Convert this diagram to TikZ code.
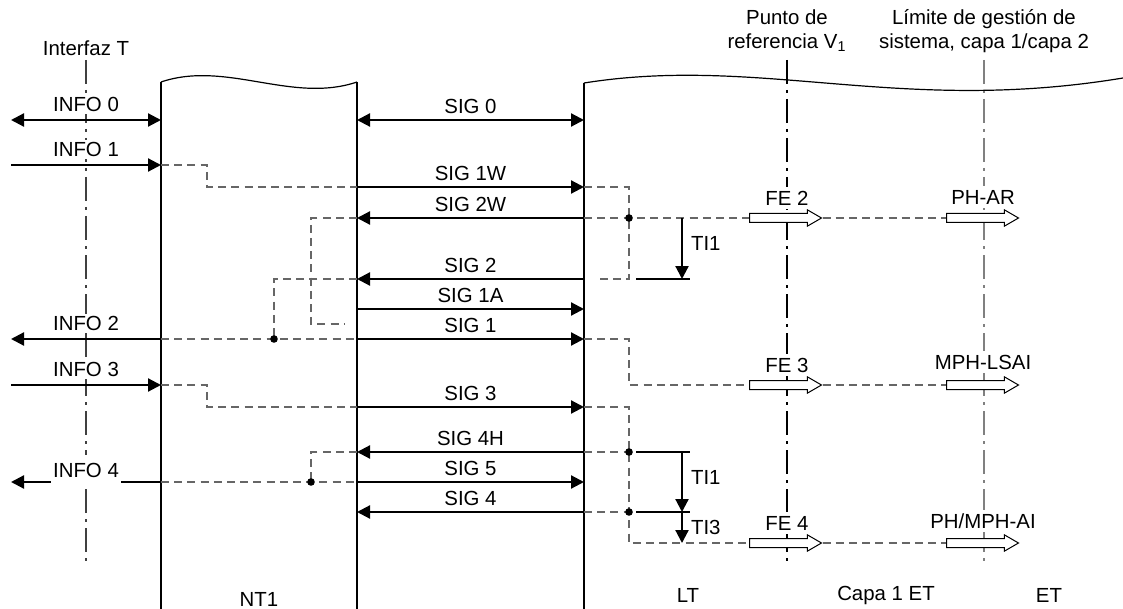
\documentclass[tikz,border=0pt]{standalone}
\usepackage{fontspec}
\setmainfont{Liberation Sans}
\usetikzlibrary{arrows.meta,shapes.arrows,positioning}
\tikzset{
    >={Triangle[length=6.5pt,width=6.5pt]},
    sigline/.style={line width=1.1pt},
    boxline/.style={line width=1pt},
    waveline/.style={line width=0.6pt},
    flowdash/.style={draw=black!60, line width=0.55pt, dash pattern=on 4pt off 2.6pt},
    refline/.style={line width=0.55pt, dash pattern=on 12pt off 3pt on 1.5pt off 3pt},
    juncdot/.style={circle, fill=black, inner sep=0pt, minimum size=3.8pt},
    lbl/.style={fill=white, inner sep=2pt},
    siglbl/.style={above=1.5pt, inner sep=1pt},
    infolbl/.style={above=2.5pt, inner sep=1pt, fill=white},
    tilbl/.style={right, inner sep=4pt},
    hollow/.style={single arrow, draw, fill=white, line width=0.5pt, inner xsep=0pt, inner ysep=2pt,
        minimum width=0pt, minimum height=36pt, single arrow head extend=1.8pt,
        single arrow tip angle=60, anchor=tail}
}
\begin{document}
\begin{tikzpicture}[x=0.5pt, y=-0.5pt, font=\fontsize{10.2}{12}\selectfont]
    \useasboundingbox (0,0) rectangle (1123,609);

    % columns
    \coordinate (edge) at (11,0);
    \coordinate (ntL) at (161,0);
    \coordinate (j1) at (207,0);
    \coordinate (j2) at (274,0);
    \coordinate (j3) at (311,0);
    \coordinate (ntR) at (357,0);
    \coordinate (ltL) at (584,0);
    \coordinate (k1) at (629,0);
    \coordinate (barL) at (636,0);
    \coordinate (ti) at (682,0);
    \coordinate (barR) at (690,0);
    % rows
    \coordinate (top) at (0,60);
    \coordinate (bot) at (0,565);
    \coordinate (floor) at (0,609);
    \coordinate (r0) at (0,120);
    \coordinate (r1) at (0,165);
    \coordinate (r1w) at (0,187);
    \coordinate (r2w) at (0,218);
    \coordinate (r2) at (0,279);
    \coordinate (r1a) at (0,309);
    \coordinate (r1s) at (0,339);
    \coordinate (r3i) at (0,385);
    \coordinate (r3) at (0,407);
    \coordinate (r4h) at (0,452);
    \coordinate (r5) at (0,482);
    \coordinate (r4) at (0,512);
    \coordinate (r6) at (0,543);
    \coordinate (stubA) at (345,324);
    \coordinate (stubB) at (596,279);

    % reference lines
    \node (intT) at (86,48) {Interfaz T};
    \node[align=center] (refV) at (787,31) {Punto de\\referencia V\textsubscript{1}};
    \node[align=center] (limit) at (984,31) {Límite de gestión de\\sistema, capa 1/capa 2};
    \draw[refline, draw=black!75] (intT |- top) -- (intT |- bot);
    \draw[refline] (refV |- top) -- (refV |- bot);
    \draw[refline, draw=black!50] (limit |- top) -- (limit |- bot);

    % boxes
    \coordinate (ntTL) at (161,82);
    \coordinate (ntTR) at (357,82);
    \coordinate (ltTL) at (584,83);
    \coordinate (ltTR) at (1123,78);
    \draw[boxline] (ntL |- floor) -- (ntTL);
    \draw[boxline] (ntR |- floor) -- (ntTR);
    \draw[waveline] (ntTL) .. controls (226,60) and (292,104) .. (ntTR);
    \draw[boxline] (ltL |- floor) -- (ltTL);
    \draw[waveline] (ltTL) .. controls (760,55) and (900,115) .. (ltTR);

    % primitives to layer 2
    \node[hollow] (fe2) at (749,218) {};
    \node[hollow] (phar) at (946,218) {};
    \node[hollow] (fe3) at (749,385) {};
    \node[hollow] (mphl) at (946,385) {};
    \node[hollow] (fe4) at (749,543) {};
    \node[hollow] (mphai) at (946,543) {};
    \node[lbl] (fe2l) at (787,198) {FE 2};
    \node[lbl] (pharl) at (983,197) {PH-AR};
    \node[lbl] (fe3l) at (787,365) {FE 3};
    \node[lbl] (mphll) at (983,362) {MPH-LSAI};
    \node[lbl] (fe4l) at (787,523) {FE 4};
    \node[lbl] (mphail) at (983,521) {PH/MPH-AI};

    % internal paths in NT1
    \draw[flowdash] (ntL |- r1) -- (j1 |- r1) -- (j1 |- r1w) -- (ntR |- r1w);
    \draw[flowdash] (ntL |- r3i) -- (j1 |- r3i) -- (j1 |- r3) -- (ntR |- r3);
    \draw[flowdash] (ntR |- r2w) -- (j3 |- r2w) -- (j3 |- stubA) -- (stubA);
    \draw[flowdash] (ntR |- r2) -- (j2 |- r2) -- (j2 |- r1s);
    \draw[flowdash] (ntL |- r1s) -- (ntR |- r1s);
    \draw[flowdash] (ntR |- r4h) -- (j3 |- r4h) -- (j3 |- r5);
    \draw[flowdash] (ntL |- r5) -- (ntR |- r5);

    % internal paths in LT
    \draw[flowdash] (ltL |- r1w) -- (k1 |- r1w) -- (k1 |- r2) -- (stubB);
    \draw[flowdash] (ltL |- r2w) -- (fe2.tail);
    \draw[flowdash] (ltL |- r1s) -- (k1 |- r1s) -- (k1 |- r3i) -- (fe3.tail);
    \draw[flowdash] (ltL |- r3) -- (k1 |- r3) -- (k1 |- r6) -- (fe4.tail);
    \draw[flowdash] (ltL |- r4h) -- (k1 |- r4h);
    \draw[flowdash] (ltL |- r4) -- (k1 |- r4);
    \draw[flowdash] (fe2.tip) -- (phar.tail);
    \draw[flowdash] (fe3.tip) -- (mphl.tail);
    \draw[flowdash] (fe4.tip) -- (mphai.tail);

    % T interface
    \draw[sigline,<->] (edge |- r0) -- node[infolbl] {INFO 0} (ntL |- r0);
    \draw[sigline,->] (edge |- r1) -- node[infolbl] {INFO 1} (ntL |- r1);
    \draw[sigline,->] (ntL |- r1s) -- node[infolbl] {INFO 2} (edge |- r1s);
    \draw[sigline,->] (edge |- r3i) -- node[infolbl] {INFO 3} (ntL |- r3i);
    \draw[sigline,->] (ntL |- r5) -- node[lbl, inner xsep=1pt, inner ysep=4pt, yshift=6pt] {INFO 4} (edge |- r5);

    % NT1 - LT
    \draw[sigline,<->] (ntR |- r0) -- node[siglbl] {SIG 0} (ltL |- r0);
    \draw[sigline,->] (ntR |- r1w) -- node[siglbl] {SIG 1W} (ltL |- r1w);
    \draw[sigline,->] (ltL |- r2w) -- node[siglbl] {SIG 2W} (ntR |- r2w);
    \draw[sigline,->] (ltL |- r2) -- node[siglbl] {SIG 2} (ntR |- r2);
    \draw[sigline,->] (ntR |- r1a) -- node[siglbl] {SIG 1A} (ltL |- r1a);
    \draw[sigline,->] (ntR |- r1s) -- node[siglbl] {SIG 1} (ltL |- r1s);
    \draw[sigline,->] (ntR |- r3) -- node[siglbl] {SIG 3} (ltL |- r3);
    \draw[sigline,->] (ltL |- r4h) -- node[siglbl] {SIG 4H} (ntR |- r4h);
    \draw[sigline,->] (ntR |- r5) -- node[siglbl] {SIG 5} (ltL |- r5);
    \draw[sigline,->] (ltL |- r4) -- node[siglbl] {SIG 4} (ntR |- r4);

    % timers
    \draw[sigline] (barL |- r2) -- (barR |- r2);
    \draw[sigline] (barL |- r4h) -- (barR |- r4h);
    \draw[sigline] (barL |- r4) -- (barR |- r4);
    \draw[sigline,->] (ti |- r2w) -- node[tilbl, yshift=2.5pt] {TI1} (ti |- r2);
    \draw[sigline,->] (ti |- r4h) -- node[tilbl, yshift=2.5pt] {TI1} (ti |- r4);
    \draw[sigline,->] (ti |- r4) -- node[tilbl] {TI3} (ti |- r6);

    \node[juncdot] (d1) at (k1 |- r2w) {};
    \node[juncdot] (d2) at (j2 |- r1s) {};
    \node[juncdot] (d3) at (j3 |- r5) {};
    \node[juncdot] (d4) at (k1 |- r4h) {};
    \node[juncdot] (d5) at (k1 |- r4) {};

    \node (nt1) at (259,599) {NT1};
    \node (lt) at (688,595) {LT};
    \node (capa) at (886,595) {Capa 1 ET};
    \node (et) at (1049,595) {ET};
\end{tikzpicture}
\end{document}
